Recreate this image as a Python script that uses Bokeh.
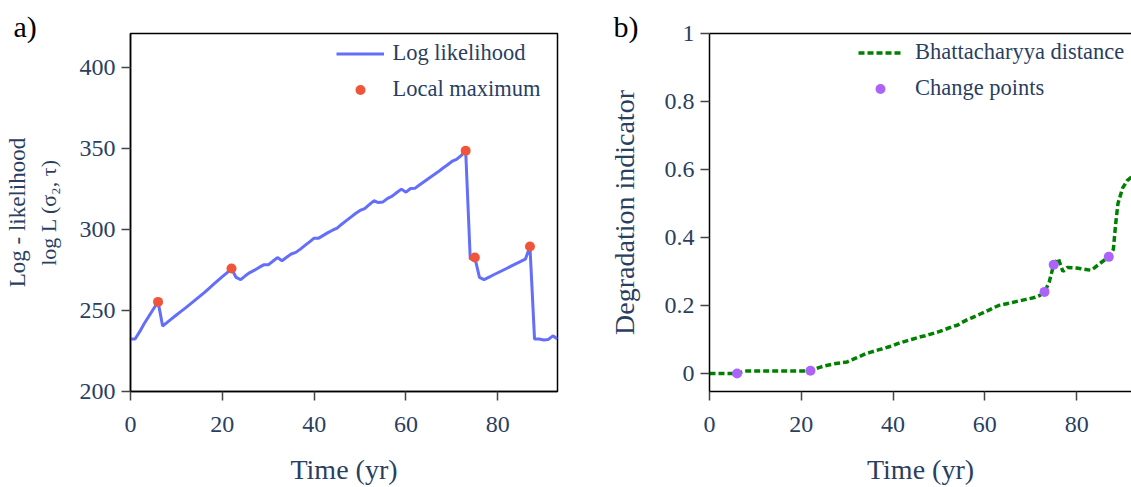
from bokeh.plotting import figure
from bokeh.models import Range1d, LinearAxis, FixedTicker, Legend, LegendItem, Title
from bokeh.layouts import row
from bokeh.embed import file_html
from bokeh.resources import INLINE

# ---------------- data ----------------
years = list(range(0, 94))
log_likelihood = [
    232.4, 232.4, 237.0, 242.0, 246.5, 251.0, 255.4, 240.5, 242.7, 245.0,
    247.3, 249.5, 251.7, 254.0, 256.3, 258.6, 261.0, 263.5, 266.0, 268.5,
    271.0, 273.3, 276.0, 270.5, 269.2, 271.5, 273.5, 275.0, 276.7, 278.3,
    278.3, 280.5, 282.8, 280.8, 283.0, 285.0, 286.0, 288.0, 290.3, 292.5,
    294.8, 294.8, 296.5, 298.2, 299.7, 301.0, 303.4, 305.6, 307.8, 310.0,
    311.9, 313.1, 315.5, 317.9, 316.8, 317.2, 319.4, 320.8, 323.0, 325.1,
    323.2, 325.5, 325.7, 327.8, 329.8, 331.8, 333.8, 335.8, 338.0, 340.0,
    342.2, 343.5, 345.8, 348.8, 281.8, 282.8, 270.5, 269.2, 270.6, 272.0,
    273.4, 274.8, 276.2, 277.6, 279.0, 280.4, 281.8, 289.6, 232.4, 232.4,
    231.8, 232.2, 234.4, 232.4,
]
local_max_t = [6, 22, 73, 75, 87]
local_max_ll = [255.4, 276.0, 348.8, 282.8, 289.6]

bd_t = list(range(0, 88)) + [88, 88.5, 89, 90, 91, 92, 93]
bd_val = [
    0.0, 0.0, 0.0, 0.0, 0.0, 0.0, 0.0, 0.004, 0.007, 0.007,
    0.007, 0.007, 0.007, 0.007, 0.007, 0.007, 0.007, 0.007, 0.007, 0.007,
    0.007, 0.007, 0.008, 0.013, 0.018, 0.022, 0.025, 0.028, 0.030, 0.032,
    0.034, 0.040, 0.046, 0.052, 0.058, 0.062, 0.066, 0.070, 0.074, 0.078,
    0.082, 0.088, 0.092, 0.096, 0.100, 0.104, 0.108, 0.111, 0.115, 0.119,
    0.123, 0.128, 0.133, 0.138, 0.142, 0.150, 0.157, 0.163, 0.169, 0.175,
    0.181, 0.187, 0.194, 0.200, 0.203, 0.206, 0.209, 0.212, 0.215, 0.218,
    0.221, 0.224, 0.230, 0.240, 0.268, 0.320, 0.338, 0.300, 0.312, 0.311,
    0.310, 0.308, 0.306, 0.304, 0.312, 0.323, 0.333, 0.343,
    0.365, 0.440, 0.500, 0.545, 0.567, 0.578, 0.582,
]
cp_t = [6, 22, 73, 75, 87]
cp_val = [0.0, 0.008, 0.240, 0.320, 0.343]

x_ticks = [0, 20, 40, 60, 80]
ll_ticks = [200, 250, 300, 350, 400]
di_ticks = [0, 0.2, 0.4, 0.6, 0.8, 1]
di_tick_labels = ["0", "0.2", "0.4", "0.6", "0.8", "1"]

# ---------------- style ----------------
FONT = "Liberation Serif"
NAVY = "#2a3f5f"
TICK_FS = "24px"
TITLE_FS = "28px"


def style_axis(ax):
    ax.axis_line_color = "black"
    ax.axis_line_width = 1.5
    ax.major_tick_line_color = "#444444"
    ax.major_tick_line_width = 1.5
    ax.major_tick_out = 9
    ax.major_tick_in = 0
    ax.minor_tick_line_color = None
    ax.major_label_text_font = FONT
    ax.major_label_text_font_size = TICK_FS
    ax.major_label_text_color = NAVY
    ax.axis_label_text_font = FONT
    ax.axis_label_text_font_style = "normal"
    ax.axis_label_text_color = NAVY
    ax.axis_label_text_font_size = TITLE_FS


def base_fig(width, xr, yr, left_border, right_border, tag, tag_offset):
    p = figure(width=width, height=487, x_range=xr, y_range=yr,
               output_backend="svg", toolbar_location=None,
               min_border_left=left_border, min_border_right=right_border,
               min_border_top=33, min_border_bottom=96)
    p.title = Title(text=tag, align="left", offset=tag_offset, standoff=-18,
                    text_font=FONT, text_font_size="30px", text_font_style="normal",
                    text_color="black")
    p.grid.visible = False
    p.background_fill_color = "white"
    p.border_fill_color = "white"
    for ax in list(p.xaxis) + list(p.yaxis):
        style_axis(ax)
    p.xaxis.ticker = FixedTicker(ticks=x_ticks)
    p.xaxis.axis_label = "Time (yr)"
    p.xaxis.major_label_standoff = 16
    p.xaxis.axis_label_standoff = 19
    return p


def make_legend(items, loc, glyph_w, standoff):
    leg = Legend(items=items, location=loc)
    leg.label_text_font = FONT
    leg.label_text_font_style = "normal"
    leg.label_text_font_size = "22.5px"
    leg.label_text_color = NAVY
    leg.glyph_width = glyph_w
    leg.glyph_height = 25
    leg.label_height = 25
    leg.label_standoff = standoff
    leg.spacing = 10
    leg.padding = 0
    leg.margin = 0
    leg.border_line_color = None
    leg.background_fill_alpha = 0
    return leg


# ---------------- panel a ----------------
p1 = base_fig(600, Range1d(0, 93.0), Range1d(200, 421.3), 130, 43, "a)", -117)
p1.outline_line_color = "black"
p1.outline_line_width = 1.5
p1.yaxis.ticker = FixedTicker(ticks=ll_ticks)
p1.yaxis.major_label_standoff = 6
p1.yaxis.axis_label = "log L (σ₂, τ)"
p1.yaxis.axis_label_text_font_size = "22px"
p1.yaxis.axis_label_standoff = 16

outer = LinearAxis(ticker=FixedTicker(ticks=[]), axis_label="Log - likelihood")
outer.axis_line_color = None
outer.major_tick_out = 0
outer.major_tick_in = 0
outer.major_label_standoff = 0
outer.minor_tick_line_color = None
outer.axis_label_text_font = FONT
outer.axis_label_text_font_style = "normal"
outer.axis_label_text_color = NAVY
outer.axis_label_text_font_size = "23px"
outer.axis_label_standoff = 3
p1.add_layout(outer, "left")

r_ll = p1.line(years, log_likelihood, line_color="#636efa", line_width=3)
r_lm = p1.scatter(local_max_t, local_max_ll, size=10, fill_color="#ef553b", line_color=None)
leg1 = make_legend([LegendItem(label="Log likelihood", renderers=[r_ll]),
                    LegendItem(label="Local maximum", renderers=[r_lm])],
                   (205.5, 289), 48, 9)
p1.add_layout(leg1)

# ---------------- panel b ----------------
p2 = base_fig(531, Range1d(0, 91.95), Range1d(-0.053, 1.0), 109, 0, "b)", -96)
p2.outline_line_color = None
p2.yaxis.ticker = FixedTicker(ticks=di_ticks)
p2.yaxis.major_label_overrides = dict(zip(di_ticks, di_tick_labels))
p2.yaxis.major_label_standoff = 6
p2.yaxis.axis_label = "Degradation indicator"
p2.yaxis.axis_label_standoff = 22

top = LinearAxis(ticker=FixedTicker(ticks=[]))
top.axis_line_color = "black"
top.axis_line_width = 1.5
top.major_tick_out = 0
top.major_tick_in = 0
top.major_label_standoff = 0
top.minor_tick_line_color = None
p2.add_layout(top, "above")

r_bd = p2.line(bd_t, bd_val, line_color="green", line_width=3.5, line_dash="6 3")
r_cp = p2.scatter(cp_t, cp_val, size=10, fill_color="#ab63fa", line_color=None)
leg2 = make_legend([LegendItem(label="Bhattacharyya distance", renderers=[r_bd]),
                    LegendItem(label="Change points", renderers=[r_cp])],
                   (149, 290), 44, 13)
p2.add_layout(leg2)

layout = row(p1, p2)
open("out.html", "w").write(file_html(layout, INLINE))
